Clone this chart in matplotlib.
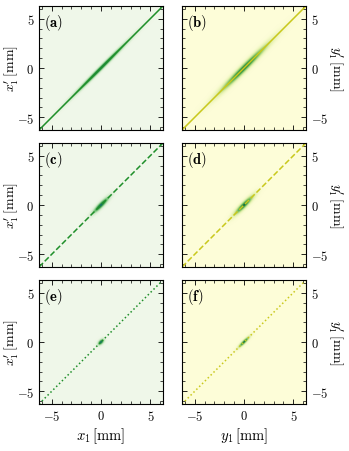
import numpy as np
import matplotlib
matplotlib.use("Agg")
import matplotlib.pyplot as plt
from matplotlib.colors import LinearSegmentedColormap

plt.rcParams["font.family"] = "DejaVu Serif"
plt.rcParams["mathtext.fontset"] = "cm"

# panel labels and line styles per row
labels = [["a", "b"], ["c", "d"], ["e", "f"]]
styles = ["-", "--", ":"]
# gaussian widths (mm) along / across the diagonal, per panel [row][col]
sig_along = [[3.0, 2.6], [0.85, 1.0], [0.28, 0.55]]
sig_perp = [[0.14, 0.24], [0.18, 0.2], [0.15, 0.12]]
lim = 6.28
ticks = [-5, 0, 5]

cmaps = [
    LinearSegmentedColormap.from_list("g", [(0, "#f0f7e9"), (0.3, "#cbe8c4"), (0.6, "#6cbf70"),
                                            (0.85, "#228c3e"), (1, "#0d6a70")]),
    LinearSegmentedColormap.from_list("y", [(0, "#fdfdd8"), (0.3, "#e3f0ac"), (0.6, "#93cc6c"),
                                            (0.85, "#2f9a44"), (1, "#156a3c")]),
]
line_cols = ["#1f8f2a", "#c9c81c"]

fig = plt.figure(figsize=(3.49, 4.52), dpi=100)
W, H = 349, 452
xs = [39, 182]
ys = [7, 144, 281]
size = 124

g = np.linspace(-lim, lim, size * 2)
X, Y = np.meshgrid(g, g)
U = (X + Y) / np.sqrt(2)
V = (Y - X) / np.sqrt(2)

for r in range(3):
    for c in range(2):
        ax = fig.add_axes([xs[c] / W, 1 - (ys[r] + size) / H, size / W, size / H])
        Z = np.exp(-U**2 / (2 * sig_along[r][c]**2) - V**2 / (2 * sig_perp[r][c]**2))
        ax.imshow(Z, extent=[-lim, lim, -lim, lim], origin="lower", cmap=cmaps[c],
                  vmin=0, vmax=1, aspect="auto", interpolation="bilinear")
        ax.plot([-lim, lim], [-lim, lim], ls=styles[r], color=line_cols[c], lw=1.1)
        ax.set_xlim(-lim, lim)
        ax.set_ylim(-lim, lim)
        ax.set_xticks(ticks)
        ax.set_yticks(ticks)
        ax.set_xticks(np.arange(-6, 7, 1), minor=True)
        ax.set_yticks(np.arange(-6, 7, 1), minor=True)
        ax.tick_params(which="both", direction="in", top=True, right=True, labelsize=9)
        ax.tick_params(which="major", length=3.5, width=0.6)
        ax.tick_params(which="minor", length=2, width=0.5)
        ax.set_xticklabels([f"${t}$" for t in ticks])
        ax.set_yticklabels([f"${t}$" for t in ticks])
        for s in ax.spines.values():
            s.set_linewidth(0.8)
        if r < 2:
            ax.tick_params(labelbottom=False)
        else:
            ax.set_xlabel([r"$x_1\,[\mathrm{mm}]$", r"$y_1\,[\mathrm{mm}]$"][c], fontsize=10.5, labelpad=2)
        if c == 0:
            ax.set_ylabel(r"$x_1'\,[\mathrm{mm}]$", fontsize=10, labelpad=-3)
        else:
            ax.tick_params(labelleft=False, labelright=True)
            ax.yaxis.set_label_position("right")
            ax.set_ylabel(r"$y_1'\,[\mathrm{mm}]$", fontsize=10, rotation=-90, labelpad=12)
        ax.text(0.04, 0.95, rf"$(\mathbf{{{labels[r][c]}}})$", transform=ax.transAxes,
                ha="left", va="top", fontsize=10.5)

fig.savefig("out.png", dpi=100)
